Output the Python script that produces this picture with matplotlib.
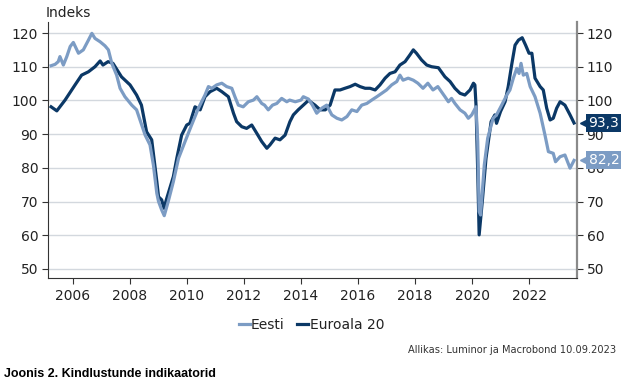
import matplotlib
matplotlib.use("Agg")
from matplotlib import pyplot as plt
import numpy as np

# Euroala 20 (dark)
euro_t = [2005.23, 2005.43, 2005.72, 2006.07, 2006.30, 2006.54, 2006.77, 2006.95, 2007.05, 2007.23,
          2007.40, 2007.70, 2008.00, 2008.23, 2008.40, 2008.58, 2008.76, 2008.94, 2009.00, 2009.11,
          2009.19, 2009.29, 2009.52, 2009.64, 2009.81, 2009.99, 2010.10, 2010.28, 2010.46, 2010.63,
          2010.81, 2011.04, 2011.22, 2011.45, 2011.63, 2011.74, 2011.92, 2012.09, 2012.27, 2012.45,
          2012.62, 2012.80, 2012.91, 2013.09, 2013.26, 2013.44, 2013.61, 2013.73, 2013.90, 2014.08,
          2014.26, 2014.49, 2014.67, 2014.85, 2015.02, 2015.19, 2015.37, 2015.54, 2015.72, 2015.90,
          2016.07, 2016.25, 2016.42, 2016.60, 2016.77, 2016.95, 2017.12, 2017.30, 2017.47, 2017.65,
          2017.82, 2017.94, 2018.05, 2018.23, 2018.41, 2018.58, 2018.82, 2019.05, 2019.23, 2019.40,
          2019.58, 2019.75, 2019.93, 2020.05, 2020.10, 2020.14, 2020.20, 2020.25, 2020.37, 2020.49,
          2020.67, 2020.80, 2020.86, 2021.00, 2021.16, 2021.27, 2021.39, 2021.51, 2021.63, 2021.76,
          2021.88, 2022.00, 2022.10, 2022.21, 2022.39, 2022.50, 2022.62, 2022.74, 2022.85, 2022.97,
          2023.09, 2023.26, 2023.44, 2023.58]
euro_v = [98.1, 96.9, 100.1, 104.6, 107.5, 108.5, 110.0, 111.7, 110.5, 111.5,
          111.0, 107.0, 104.6, 101.6, 98.6, 90.7, 88.3, 75.9, 71.4, 70.5,
          68.0, 71.0, 77.4, 82.8, 89.7, 92.7, 93.2, 98.1, 97.2, 101.1,
          102.6, 103.6, 102.6, 101.1, 96.2, 93.7, 92.2, 91.7, 92.7, 90.2,
          87.8, 85.8, 86.8, 88.8, 88.3, 89.7, 93.7, 95.7, 97.2, 98.6,
          100.0, 98.6, 97.2, 97.2, 98.6, 103.1, 103.1, 103.6, 104.1, 104.8,
          104.1, 103.6, 103.6, 103.1, 104.6, 106.6, 108.0, 108.5, 110.5, 111.5,
          113.5, 115.0, 114.0, 112.0, 110.5, 110.0, 109.7, 107.0, 105.6, 103.6,
          102.1, 101.6, 103.1, 105.1, 104.6, 98.6, 78.9, 60.1, 71.0, 82.8,
          93.7, 95.7, 93.2, 96.7, 99.6, 104.1, 110.5, 116.4, 117.9, 118.6,
          116.4, 114.0, 114.0, 106.6, 104.1, 103.1, 97.7, 94.2, 94.7, 97.7,
          99.6, 98.6, 95.7, 93.3]

# Eesti (light)
eesti_t = [2005.23, 2005.37, 2005.48, 2005.54, 2005.66, 2005.78, 2005.90, 2006.01, 2006.19, 2006.36,
           2006.54, 2006.66, 2006.77, 2006.95, 2007.12, 2007.24, 2007.36, 2007.53, 2007.65, 2007.82,
           2008.06, 2008.23, 2008.41, 2008.53, 2008.70, 2008.82, 2008.94, 2009.00, 2009.11, 2009.20,
           2009.34, 2009.52, 2009.70, 2009.93, 2010.16, 2010.40, 2010.63, 2010.75, 2010.87, 2011.04,
           2011.22, 2011.39, 2011.57, 2011.68, 2011.80, 2011.97, 2012.15, 2012.33, 2012.45, 2012.62,
           2012.72, 2012.85, 2013.00, 2013.15, 2013.32, 2013.50, 2013.60, 2013.80, 2014.00, 2014.08,
           2014.26, 2014.40, 2014.55, 2014.73, 2014.90, 2015.08, 2015.26, 2015.43, 2015.61, 2015.78,
           2015.96, 2016.13, 2016.31, 2016.48, 2016.66, 2016.83, 2017.00, 2017.18, 2017.36, 2017.47,
           2017.58, 2017.76, 2017.94, 2018.10, 2018.28, 2018.45, 2018.63, 2018.80, 2019.05, 2019.17,
           2019.28, 2019.40, 2019.58, 2019.75, 2019.87, 2019.99, 2020.14, 2020.20, 2020.25, 2020.30,
           2020.43, 2020.55, 2020.74, 2020.86, 2021.04, 2021.22, 2021.33, 2021.45, 2021.57, 2021.65,
           2021.72, 2021.80, 2021.92, 2022.04, 2022.21, 2022.39, 2022.56, 2022.68, 2022.85, 2022.93,
           2023.09, 2023.26, 2023.44, 2023.58]
eesti_v = [110.3, 110.7, 111.5, 113.0, 110.5, 113.0, 116.0, 117.2, 114.0, 115.0,
           117.9, 119.9, 118.4, 117.4, 116.2, 115.0, 111.0, 107.5, 103.6, 101.1,
           98.6, 97.2, 92.7, 89.7, 86.8, 80.8, 72.4, 70.0, 67.5, 65.8,
           70.0, 75.9, 82.8, 87.8, 92.7, 97.7, 101.6, 104.1, 103.6, 104.6,
           105.1, 104.1, 103.6, 101.1, 98.6, 98.1, 99.6, 100.1, 101.1, 99.1,
           98.6, 97.2, 98.6, 99.1, 100.6, 99.6, 100.1, 99.6, 100.1, 101.1,
           100.4, 98.6, 96.2, 97.7, 98.6, 95.7, 94.7, 94.2, 95.2, 97.2,
           96.7, 98.6, 99.1, 100.1, 101.1, 102.1, 103.1, 104.6, 105.6, 107.5,
           106.0, 106.6, 106.0, 105.1, 103.6, 105.1, 103.1, 104.1, 101.1, 99.6,
           100.6, 99.1, 97.2, 96.2, 94.7, 95.7, 98.1, 87.8, 67.0, 66.0,
           80.8, 88.8, 94.7, 95.7, 98.6, 101.6, 103.1, 106.6, 109.5, 108.0,
           111.0, 107.5, 108.0, 104.1, 101.1, 96.2, 89.7, 84.8, 84.3, 81.8,
           83.3, 83.8, 79.9, 82.2]

years = [2006, 2008, 2010, 2012, 2014, 2016, 2018, 2020, 2022]
yticks = [50, 60, 70, 80, 90, 100, 110, 120]

dark = '#0b3866'
light = '#7c9cc4'
txt = '#222222'

fig = plt.figure(figsize=(6.23, 3.84), dpi=100)
ax = fig.add_axes([0.077, 0.276, 0.849, 0.667])

ax.plot(eesti_t, eesti_v, color=light, lw=2.3, label='Eesti', zorder=4)
ax.plot(euro_t, euro_v, color=dark, lw=2.3, label='Euroala 20', zorder=3)

ax.set_xlim(2005.12, 2023.68)
ax.set_ylim(47.3, 123.3)
ax.set_xticks(years)
ax.set_yticks(yticks)
ax.grid(axis='y', color='#d3d8de', lw=1, zorder=0)

ax.spines['top'].set_visible(False)
ax.spines['left'].set_color('#333333')
ax.spines['bottom'].set_color('#333333')
ax.spines['right'].set_color('#8a8a8a')
ax.spines['right'].set_linewidth(1.6)

ax.tick_params(axis='y', left=True, right=True, labelleft=True, labelright=True,
               length=4, width=0.8, color='#333333', labelsize=10, labelcolor=txt, pad=3)
ax.tick_params(axis='x', length=4, width=0.8, color='#333333', labelsize=10, labelcolor=txt, pad=4)

fig.text(0.074, 1 - 13 / 384, 'Indeks', fontsize=10, color=txt, ha='left', va='center')

# end-value labels
for val, col in [(euro_v[-1], dark), (eesti_v[-1], light)]:
    ax.plot([1.013], [val], marker='<', ms=6, color=col, transform=ax.get_yaxis_transform(),
            clip_on=False, zorder=6)
    ax.text(1.022, val, f'{val:.1f}'.replace('.', ','), transform=ax.get_yaxis_transform(),
            fontsize=10, color='white', ha='left', va='center', zorder=7,
            bbox=dict(boxstyle='square,pad=0.15', fc=col, ec='none'))

leg = fig.legend(loc='center', bbox_to_anchor=(0.5, 0.153), ncol=2, frameon=False, fontsize=10,
                 handlelength=0.8, handletextpad=0.1, columnspacing=0.9)
for t in leg.get_texts():
    t.set_color(txt)

fig.text(0.989, 0.088, 'Allikas: Luminor ja Macrobond 10.09.2023', fontsize=7.1, color='#333333',
         ha='right', va='center')
fig.text(0.006, 0.026, 'Joonis 2. Kindlustunde indikaatorid', fontsize=9, fontweight='bold',
         family='Liberation Sans', ha='left', va='center', color='black')

plt.savefig('out.png', dpi=100)
